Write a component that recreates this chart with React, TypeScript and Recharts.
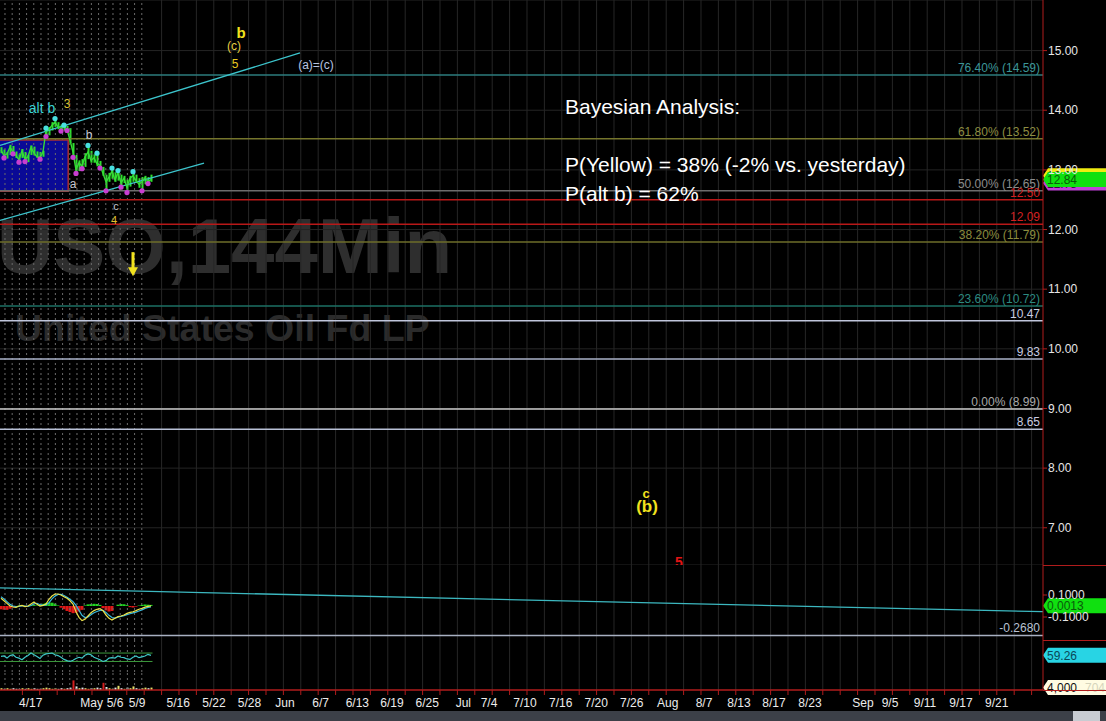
import React from "react";
import {
  ComposedChart,
  Line,
  Bar,
  Scatter,
  XAxis,
  YAxis,
  CartesianGrid,
  ReferenceLine,
  ReferenceArea,
  ReferenceDot,
  Cell,
} from "recharts";

const W = 1106;
const AXIS_W = 63;
const X_DOMAIN: [number, number] = [-0.33, 347.33];
const RED = "#b01c1c";

// 144-minute bars (x = bar number)
const LOW = [
  13.28, 13.2, 13.19, 13.25, 13.27, 13.2, 13.13, 13.2, 13.14, 13.13, 13.25, 13.24, 13.2, 13.18, 13.22, 13.56, 13.58,
  13.66, 13.72, 13.68, 13.65, 13.66, 13.66, 13.45, 13.21, 12.94, 12.98, 13.02, 13.05, 13.18, 13.12, 13.12, 13.06,
  13.03, 12.9, 12.65, 12.8, 12.85, 12.8, 12.82, 12.71, 12.78, 12.62, 12.72, 12.8, 12.78, 12.7, 12.65, 12.76, 12.77, 12.8,
];
const HIGH = [
  13.38, 13.34, 13.3, 13.42, 13.4, 13.31, 13.26, 13.35, 13.3, 13.25, 13.41, 13.39, 13.31, 13.3, 13.32, 13.7, 13.72,
  13.8, 13.86, 13.8, 13.76, 13.75, 13.74, 13.7, 13.45, 13.25, 13.16, 13.18, 13.28, 13.41, 13.32, 13.26, 13.28, 13.15,
  13.05, 12.92, 12.95, 13.03, 12.96, 12.99, 12.92, 12.9, 12.84, 12.9, 12.97, 12.92, 12.86, 12.88, 12.9, 12.88, 12.92,
];
const CLOSE = [
  13.33, 13.24, 13.27, 13.38, 13.3, 13.24, 13.17, 13.32, 13.18, 13.22, 13.38, 13.28, 13.22, 13.21, 13.3, 13.66, 13.68,
  13.75, 13.8, 13.72, 13.7, 13.73, 13.68, 13.5, 13.3, 13.0, 13.12, 13.06, 13.22, 13.3, 13.16, 13.2, 13.1, 13.08, 12.94,
  12.8, 12.88, 12.98, 12.83, 12.95, 12.78, 12.86, 12.7, 12.86, 12.9, 12.82, 12.76, 12.8, 12.87, 12.8, 12.84,
];
const SWING_LOWS = [1, 4, 6, 8, 13, 15, 20, 22, 24, 25, 27, 33, 35, 40, 42, 47, 49];
const SWING_HIGHS = [15, 18, 21, 29, 32, 37, 39, 44];

// indicator panels
const MACD = [
  0.07, 0.048, 0.024, 0.0, -0.009, -0.012, 0.0, 0.006, -0.006, 0.0, 0.018, 0.036, 0.015, 0.0, 0.006, 0.018, 0.061,
  0.091, 0.109, 0.109, 0.1, 0.085, 0.07, 0.048, 0.018, -0.052, -0.103, -0.133, -0.121, -0.091, -0.061, -0.042, -0.03,
  -0.024, -0.042, -0.082, -0.112, -0.127, -0.112, -0.097, -0.091, -0.082, -0.067, -0.058, -0.052, -0.042, -0.03,
  -0.021, -0.01, -0.004, 0.0013,
];
const SIGNAL = [
  0.085, 0.065, 0.04, 0.015, 0.0, -0.005, -0.003, 0.0, 0.0, -0.003, 0.005, 0.02, 0.025, 0.012, 0.005, 0.01, 0.03,
  0.065, 0.09, 0.105, 0.105, 0.095, 0.08, 0.062, 0.04, 0.005, -0.04, -0.085, -0.105, -0.1, -0.08, -0.062, -0.05, -0.04,
  -0.04, -0.058, -0.085, -0.105, -0.11, -0.102, -0.095, -0.088, -0.078, -0.07, -0.062, -0.055, -0.045, -0.035, -0.022,
  -0.012, -0.008,
];
const HIST = [
  -0.03, -0.035, -0.035, -0.025, -0.012, -0.005, 0.004, 0.006, -0.004, 0.0, 0.006, 0.008, 0.004, 0.01, 0.02, 0.028,
  0.032, 0.03, 0.022, 0.005, -0.015, -0.03, -0.045, -0.055, -0.065, -0.062, -0.05, -0.035, 0.005, 0.015, 0.018, 0.02,
  0.018, 0.01, -0.02, -0.04, -0.05, -0.045, 0.0, 0.012, 0.018, 0.016, 0.008, -0.01, -0.014, -0.006, 0.004, 0.01, 0.014,
  0.012, 0.01,
];
const RSI = [
  54, 56, 46, 58, 62, 50, 46, 38, 50, 58, 70, 62, 54, 44, 60, 66, 68, 70, 62, 58, 50, 40, 34, 30, 36, 44, 50, 46, 60,
  66, 62, 50, 44, 38, 30, 34, 46, 48, 46, 56, 50, 48, 42, 40, 50, 56, 48, 52, 56, 64, 59.26,
];
const VOLUME = [
  3, 2, 3, 2, 3, 2, 2, 3, 2, 3, 2, 3, 2, 2, 3, 4, 3, 2, 3, 2, 3, 2, 3, 4, 16, 6, 3, 4, 3, 2, 3, 3, 4, 3, 12, 5, 3, 2, 4,
  7, 3, 2, 4, 3, 6, 3, 2, 3, 4, 3, 4,
];

const PRICE_TICKS = [7, 8, 9, 10, 11, 12, 13, 14, 15];

const DATE_LABELS = [
  "4/17", "May", "5/6", "5/9", "5/16", "5/22", "5/28", "Jun", "6/7", "6/13", "6/19", "6/25", "Jul", "7/4",
  "7/10", "7/16", "7/20", "7/26", "Aug", "8/7", "8/13", "8/17", "8/23", "Sep", "9/5", "9/11", "9/17", "9/21",
];
const DATE_POS = [
  9.9, 30.2, 38, 45.4, 59.1, 71, 82.8, 94.67, 106.57, 118.77, 130.33, 142.1, 154.1, 162.67, 174.67, 186.57,
  198.43, 210.23, 222.23, 234.33, 246, 257.67, 269.67, 287.33, 296.33, 308, 320, 331.9,
];

const LEVELS = [
  { y: 14.59, text: "76.40% (14.59)", line: "#2c7c7e", color: "#3c9698" },
  { y: 13.52, text: "61.80% (13.52)", line: "#75752c", color: "#8e8e42" },
  { y: 12.65, text: "50.00% (12.65)", line: "#6c6c6c", color: "#8c8c8c" },
  { y: 12.5, text: "12.50", line: "#b81818", color: "#d42020" },
  { y: 12.09, text: "12.09", line: "#b81818", color: "#d42020" },
  { y: 11.79, text: "38.20% (11.79)", line: "#6e6e2a", color: "#8c8c3e" },
  { y: 10.72, text: "23.60% (10.72)", line: "#1c7064", color: "#2c8a80" },
  { y: 10.47, text: "10.47", line: "#c0c6dc", color: "#c8cce0" },
  { y: 9.83, text: "9.83", line: "#aab2c8", color: "#c8cce0" },
  { y: 8.99, text: "0.00% (8.99)", line: "#c8c8c8", color: "#a8a8a8" },
  { y: 8.65, text: "8.65", line: "#b8c0d6", color: "#c8cce0" },
];

const NOTES = [
  { x: 80, y: 15.31, text: "b", color: "#f2e21e", size: 15, bold: true },
  { x: 77.67, y: 15.08, text: "(c)", color: "#e6d044", size: 12, bold: false },
  { x: 78, y: 14.78, text: "5", color: "#e8c820", size: 12, bold: false },
  { x: 105, y: 14.76, text: "(a)=(c)", color: "#b8c4e2", size: 12, bold: false },
  { x: 13.67, y: 14.04, text: "alt b", color: "#3cd4d4", size: 14, bold: false },
  { x: 22, y: 14.1, text: "3", color: "#dcc030", size: 12, bold: false },
  { x: 29.33, y: 13.58, text: "b", color: "#c8c8d0", size: 12, bold: false },
  { x: 24, y: 12.76, text: "a", color: "#c8c8d0", size: 12, bold: false },
  { x: 38.33, y: 12.4, text: "c", color: "#c8c8d0", size: 11, bold: false },
  { x: 37.67, y: 12.16, text: "4", color: "#e0c030", size: 11, bold: false },
  { x: 215, y: 7.58, text: "c", color: "#f2e21e", size: 13, bold: true },
  { x: 215.33, y: 7.35, text: "(b)", color: "#f2e21e", size: 17, bold: true },
  { x: 226, y: 6.43, text: "5", color: "#e01414", size: 14, bold: true },
];

const FUTURE_GRID = Array.from({ length: 51 }, (_, k) => 59.33 + 5.8 * (k - 1));
const HIST_GRID = Array.from({ length: 20 }, (_, k) => 1.33 + 2.4 * k);
const AXIS_MARKS = Array.from({ length: 59 }, (_, k) => 59.33 + 5.8 * (k - 9));

const bars = CLOSE.map((c, i) => ({ x: i, range: [LOW[i], HIGH[i]], close: c }));
const lowPts = SWING_LOWS.map((i) => ({ x: i, y: LOW[i] }));
const highPts = SWING_HIGHS.map((i) => ({ x: i, y: HIGH[i] }));
const ind = MACD.map((m, i) => ({ x: i, macd: m, signal: SIGNAL[i], hist: HIST[i], rsi: RSI[i], vol: VOLUME[i] }));

const LABEL_AT = new Map(DATE_POS.map((p, i) => [p, DATE_LABELS[i]]));
const ALL_TICKS = [...DATE_POS, ...AXIS_MARKS.filter((m) => DATE_POS.every((p) => Math.abs(p - m) > 0.01))];

const gridLines = (key: string) => [
  ...HIST_GRID.map((x) => (
    <ReferenceLine key={`${key}h${x}`} x={x} stroke="#6a6a6a" strokeDasharray="2 3" />
  )),
  ...FUTURE_GRID.map((x) => <ReferenceLine key={`${key}f${x}`} x={x} stroke="#262626" />),
];

const flag = (bg: string, fg: string, text: string, ghost?: string) => (props: any) => {
  const vb = props.viewBox;
  const x0 = vb.x + vb.width;
  const y = vb.y;
  return (
    <g>
      <path d={`M${x0} ${y} L${x0 + 5} ${y - 7.5} H${x0 + 63} V${y + 7.5} H${x0 + 5} Z`} fill={bg} />
      <text x={x0 + 4} y={y + 4.5} fill={fg} fontSize={12}>
        {text}
      </text>
      {ghost && (
        <text x={x0 + 42} y={y + 4.5} fill="#d6d4bc" fontSize={12}>
          {ghost}
        </text>
      )}
    </g>
  );
};

const dot = (color: string) => (p: any) => <circle cx={p.cx} cy={p.cy} r={2.6} fill={color} />;

const DateTick = (props: any) => {
  const { x, y, payload } = props;
  const label = LABEL_AT.get(payload.value);
  if (label)
    return (
      <text x={x} y={y + 17} textAnchor="middle" fill="#ececec" fontSize={12}>
        {label}
      </text>
    );
  return <line x1={x} x2={x} y1={y} y2={y + 5} stroke={RED} />;
};

const axisProps = {
  orientation: "right" as const,
  width: AXIS_W,
  allowDataOverflow: true,
  axisLine: { stroke: RED },
  tickLine: { stroke: RED },
  tickSize: 4,
  tickMargin: 1,
  tick: { fill: "#e6e6e6", fontSize: 12 },
};

const zeroMargin = { top: 0, right: 0, bottom: 0, left: 0 };

export default function App() {
  return (
    <div
      style={{
        position: "fixed",
        left: 0,
        top: 0,
        width: W,
        height: 721,
        background: "#000",
        overflow: "hidden",
        fontFamily: '"Liberation Sans", Arial, sans-serif',
      }}
    >
      <div
        style={{
          position: "absolute",
          left: -3,
          top: 196,
          fontSize: 78,
          fontWeight: 700,
          color: "#2e2e2e",
          whiteSpace: "nowrap",
          lineHeight: "100px",
        }}
      >
        USO,144Min
      </div>
      <div
        style={{
          position: "absolute",
          left: 15,
          top: 304,
          fontSize: 37.5,
          fontWeight: 700,
          color: "#2b2b2b",
          whiteSpace: "nowrap",
          lineHeight: "48px",
        }}
      >
        United States Oil Fd LP
      </div>

      <div style={{ position: "absolute", left: 0, top: 0 }}>
        <ComposedChart width={W} height={565} data={bars} margin={zeroMargin}>
          <CartesianGrid vertical={false} stroke="#242424" />
          <XAxis type="number" dataKey="x" domain={X_DOMAIN} hide allowDataOverflow />
          <YAxis {...axisProps} domain={[6.376, 15.848]} ticks={PRICE_TICKS} tickFormatter={(v) => v.toFixed(2)} />
          {gridLines("m")}
          <ReferenceArea
            x1={-3}
            x2={22.4}
            y1={12.64}
            y2={13.5}
            fill="#0a0a96"
            fillOpacity={1}
            stroke="#a83030"
            strokeWidth={1.5}
            ifOverflow="hidden"
          />
          {LEVELS.map((l) => (
            <ReferenceLine
              key={l.text}
              y={l.y}
              stroke={l.line}
              strokeWidth={1.5}
              label={{ value: l.text, position: "insideBottomRight", fill: l.color, fontSize: 12, offset: 3 }}
            />
          ))}
          <ReferenceLine
            segment={[
              { x: -0.33, y: 13.409 },
              { x: 99.67, y: 14.961 },
            ]}
            stroke="#3cc4cc"
            strokeWidth={1.3}
          />
          <ReferenceLine
            segment={[
              { x: -0.33, y: 12.152 },
              { x: 67.67, y: 13.112 },
            ]}
            stroke="#3cc4cc"
            strokeWidth={1.3}
          />
          <Bar dataKey="range" fill="#2ee02e" barSize={2} isAnimationActive={false} />
          <Line
            dataKey="close"
            stroke="#36dc36"
            strokeWidth={1.4}
            dot={false}
            activeDot={false}
            isAnimationActive={false}
          />
          <Scatter data={lowPts} dataKey="y" shape={dot("#c83ed0")} isAnimationActive={false} />
          <Scatter data={highPts} dataKey="y" shape={dot("#48e0e0")} isAnimationActive={false} />
          {NOTES.map((n, i) => (
            <ReferenceDot
              key={`n${i}`}
              x={n.x}
              y={n.y}
              r={0}
              shape={(p: any) => (
                <text
                  x={p.cx}
                  y={p.cy}
                  textAnchor="middle"
                  dominantBaseline="central"
                  fill={n.color}
                  fontSize={n.size}
                  fontWeight={n.bold ? 700 : 400}
                >
                  {n.text}
                </text>
              )}
            />
          ))}
          <ReferenceDot
            x={44}
            y={11.42}
            r={0}
            shape={(p: any) => (
              <g fill="#f2e21e">
                <rect x={p.cx - 1.5} y={p.cy - 12} width={3} height={16} />
                <path d={`M${p.cx - 5} ${p.cy + 3} L${p.cx + 5} ${p.cy + 3} L${p.cx} ${p.cy + 12} Z`} />
              </g>
            )}
          />
          <ReferenceLine y={12.9} stroke="none" label={flag("#f0ec10", "#3a3a00", "12.90")} />
          <ReferenceLine y={12.78} stroke="none" label={flag("#c040d8", "#3a0a40", "12.78")} />
          <ReferenceLine y={12.84} stroke="none" label={flag("#10e010", "#0a5a0a", "12.84")} />
        </ComposedChart>
      </div>

      <div style={{ position: "absolute", left: 0, top: 565 }}>
        <ComposedChart width={W} height={75} data={ind} margin={zeroMargin}>
          <XAxis type="number" dataKey="x" domain={X_DOMAIN} hide allowDataOverflow />
          <YAxis {...axisProps} domain={[-0.309, 0.3727]} ticks={[0.1, -0.1]} tickFormatter={(v) => v.toFixed(4)} />
          {gridLines("d")}
          <ReferenceLine
            y={-0.268}
            stroke="#a8b0c2"
            strokeWidth={1.5}
            label={{ value: "-0.2680", position: "insideBottomRight", fill: "#b8c0d2", fontSize: 12, offset: 3 }}
          />
          <Bar dataKey="hist" barSize={3} isAnimationActive={false}>
            {HIST.map((h, i) => (
              <Cell key={`c${i}`} fill={h >= 0 ? "#22d422" : "#e01818"} />
            ))}
          </Bar>
          <Line
            dataKey="signal"
            stroke="#38b8dc"
            strokeWidth={1.2}
            dot={false}
            activeDot={false}
            isAnimationActive={false}
          />
          <Line
            dataKey="macd"
            stroke="#ece24a"
            strokeWidth={1.2}
            dot={false}
            activeDot={false}
            isAnimationActive={false}
          />
          <ReferenceLine
            segment={[
              { x: -0.33, y: 0.164 },
              { x: 347.33, y: -0.052 },
            ]}
            stroke="#3cb8c0"
            strokeWidth={1.3}
          />
          <ReferenceLine y={0.0013} stroke="none" label={flag("#10e010", "#0a5a0a", "0.0013")} />
        </ComposedChart>
      </div>

      <div style={{ position: "absolute", left: 0, top: 640 }}>
        <ComposedChart width={W} height={32} data={ind} margin={zeroMargin}>
          <XAxis type="number" dataKey="x" domain={X_DOMAIN} hide allowDataOverflow />
          <YAxis {...axisProps} domain={[-20, 132]} tick={false} />
          {gridLines("r")}
          <ReferenceLine
            segment={[
              { x: -0.33, y: 70 },
              { x: 50.5, y: 70 },
            ]}
            stroke="#3c9a3c"
          />
          <ReferenceLine
            segment={[
              { x: -0.33, y: 30 },
              { x: 50.5, y: 30 },
            ]}
            stroke="#3c9a3c"
          />
          <Line
            dataKey="rsi"
            stroke="#40c8c8"
            strokeWidth={1.2}
            dot={false}
            activeDot={false}
            isAnimationActive={false}
          />
          <ReferenceLine y={59.26} stroke="none" label={flag("#28d4e4", "#0a4858", "59.26")} />
        </ComposedChart>
      </div>

      <div style={{ position: "absolute", left: 0, top: 672 }}>
        <ComposedChart width={W} height={38} data={ind} margin={zeroMargin}>
          <XAxis
            type="number"
            dataKey="x"
            domain={X_DOMAIN}
            allowDataOverflow
            ticks={ALL_TICKS}
            interval={0}
            height={20}
            tickLine={false}
            tickSize={0}
            tickMargin={0}
            axisLine={{ stroke: RED, strokeWidth: 1.5 }}
            tick={DateTick}
          />
          <YAxis {...axisProps} domain={[0, 30]} tick={false} />
          {gridLines("v")}
          <Bar dataKey="vol" barSize={2} isAnimationActive={false}>
            {VOLUME.map((v, i) => (
              <Cell
                key={`v${i}`}
                fill={v >= 10 ? "#d42020" : i > 0 && CLOSE[i] < CLOSE[i - 1] ? "#e8e8e8" : "#e6de6a"}
              />
            ))}
          </Bar>
          <ReferenceLine y={4} stroke="none" label={flag("#fffbe2", "#111", "4,000", "704")} />
        </ComposedChart>
      </div>

      {[565, 640, 690].map((t) => (
        <div key={t} style={{ position: "absolute", left: 1043, top: t, width: 63, height: 1, background: RED }} />
      ))}

      <div
        style={{
          position: "absolute",
          left: 565,
          top: 92,
          fontSize: 21,
          lineHeight: "29px",
          color: "#fff",
          whiteSpace: "nowrap",
        }}
      >
        <div>Bayesian Analysis:</div>
        <div>&nbsp;</div>
        <div>P(Yellow) = 38% (-2% vs. yesterday)</div>
        <div>P(alt b) = 62%</div>
      </div>

      <div style={{ position: "absolute", left: 0, top: 711, width: W, height: 10, background: "#3c4048" }} />
      <div style={{ position: "absolute", left: 1073, top: 711, width: 27, height: 10, background: "#c8ccd2" }} />
    </div>
  );
}
